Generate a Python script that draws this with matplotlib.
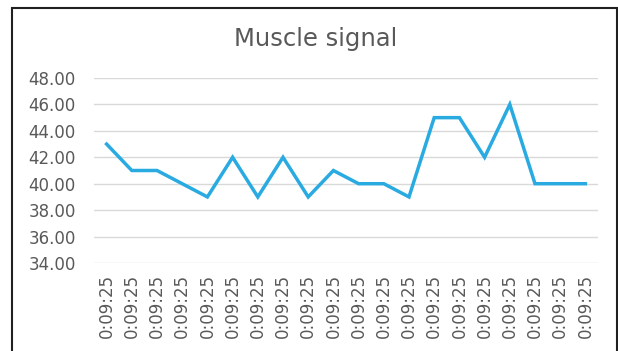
import matplotlib.pyplot as plt
from matplotlib.patches import Rectangle

# lecturas de la señal muscular
tiempos = ["0:09:25"] * 20
senal = [43, 41, 41, 40, 39, 42, 39, 42, 39, 41, 40, 40, 39, 45, 45, 42, 46, 40, 40, 40]
ticks_y = [34, 36, 38, 40, 42, 44, 46, 48]

plt.rcParams['font.family'] = ['DejaVu Sans']
gris = "#595959"

fig = plt.figure(figsize=(6.18, 3.51), dpi=100)
ax = fig.add_axes([94/618, 1 - 263/351, 504/618, 185/351])

x = list(range(len(senal)))
ax.plot(x, senal, color="#29abe2", lw=2.5, solid_joinstyle="miter")

ax.set_xlim(-0.5, len(senal) - 0.5)
ax.set_ylim(34, 48)
ax.set_yticks(ticks_y)
ax.set_yticklabels([f"{v:.2f}" for v in ticks_y], color=gris, fontsize=12)
ax.set_xticks(x)
ax.set_xticklabels(tiempos, rotation=90, color=gris, fontsize=12)
ax.tick_params(length=0, pad=8)
ax.tick_params(axis="y", pad=13)
ax.grid(axis="y", color="#d9d9d9", lw=1)
ax.set_axisbelow(True)
for s in ax.spines.values():
    s.set_visible(False)

fig.text(316/618, 1 - 46/351, "Muscle signal", ha="center", va="baseline",
         color=gris, fontsize=17.5)

# marco del gráfico
fig.patches.append(Rectangle((11.5/618, -0.05), (617 - 11.5)/618, 1 - 8/351 + 0.05,
                             transform=fig.transFigure, fill=False,
                             edgecolor="#202020", lw=1.5))

fig.savefig("out.png", dpi=100)
